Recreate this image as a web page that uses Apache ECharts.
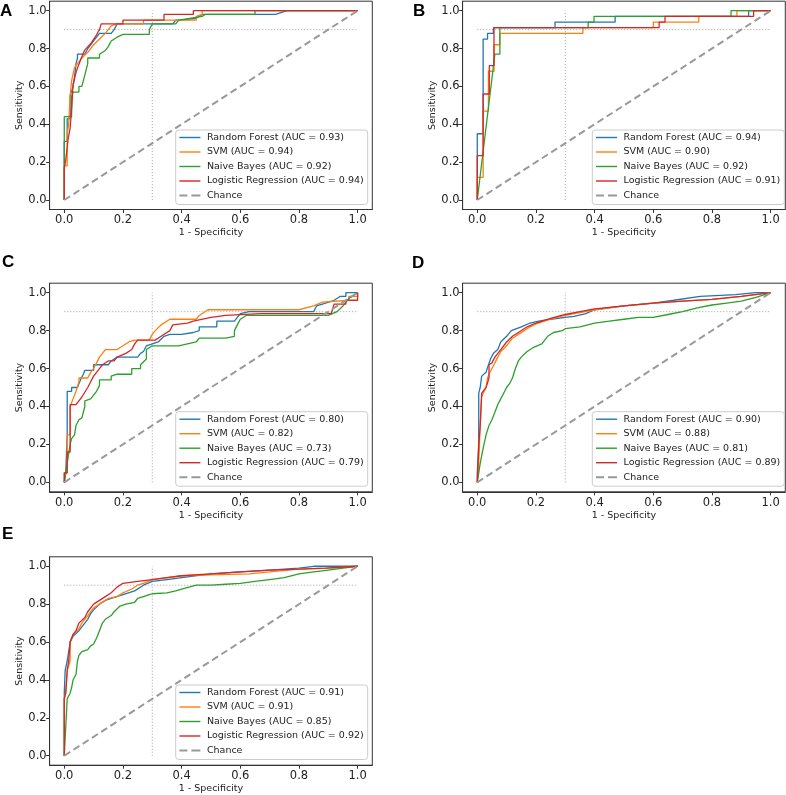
<!DOCTYPE html>
<html>
<head>
<meta charset="utf-8">
<script src="https://cdn.jsdelivr.net/npm/echarts@6/dist/echarts.min.js"></script>
<style>
html,body{margin:0;padding:0;background:#fff;}
#chart{width:786px;height:795px;}
</style>
</head>
<body>
<div id="chart"></div>
<script>
// ---------- DATA ----------
const panelLetters = ['A', 'B', 'C', 'D', 'E'];
const modelNames = ['Random Forest', 'SVM', 'Naive Bayes', 'Logistic Regression'];
const modelColors = ['#1f77b4', '#ff7f0e', '#2ca02c', '#d62728'];
const aucA = ['0.93', '0.94', '0.92', '0.94'];
const aucB = ['0.94', '0.90', '0.92', '0.91'];
const aucC = ['0.80', '0.82', '0.73', '0.79'];
const aucD = ['0.90', '0.88', '0.81', '0.89'];
const aucE = ['0.91', '0.91', '0.85', '0.92'];
const tickValues = [0, 0.2, 0.4, 0.6, 0.8, 1.0];
const chanceLine = [[0, 0], [1, 1]];
const sensRefLine = [[0, 0.9], [1, 0.9]];
const specRefLine = [[0.3, 0], [0.3, 1]];

// Panel A
const A_rf = [[0,0],[0,0.31],[0.01,0.31],[0.01,0.43],[0.02,0.43],[0.02,0.55],[0.03,0.6],[0.035,0.65],[0.04,0.72],[0.045,0.75],[0.045,0.77],[0.07,0.77],[0.08,0.8],[0.09,0.82],[0.1,0.84],[0.11,0.86],[0.12,0.88],[0.16,0.88],[0.17,0.9],[0.18,0.93],[0.37,0.93],[0.38,0.95],[0.4,0.95],[0.45,0.96],[0.47,0.98],[0.72,0.98],[0.76,1],[1,1]];
const A_svm = [[0,0],[0,0.18],[0.01,0.18],[0.01,0.35],[0.015,0.4],[0.02,0.55],[0.025,0.63],[0.035,0.7],[0.045,0.72],[0.06,0.75],[0.08,0.78],[0.1,0.82],[0.12,0.85],[0.14,0.88],[0.15,0.9],[0.16,0.92],[0.18,0.93],[0.27,0.93],[0.27,0.95],[0.45,0.95],[0.45,0.97],[0.47,0.98],[0.47,1],[1,1]];
const A_nb = [[0,0],[0,0.44],[0.025,0.44],[0.025,0.55],[0.03,0.57],[0.05,0.57],[0.05,0.6],[0.06,0.6],[0.07,0.66],[0.08,0.72],[0.08,0.75],[0.12,0.75],[0.12,0.77],[0.14,0.79],[0.15,0.81],[0.16,0.84],[0.18,0.86],[0.2,0.875],[0.29,0.875],[0.29,0.9],[0.3,0.93],[0.38,0.93],[0.39,0.95],[0.47,0.97],[0.48,0.98],[0.65,0.98],[0.65,1],[1,1]];
const A_lr = [[0,0],[0,0.17],[0.005,0.21],[0.013,0.32],[0.02,0.38],[0.026,0.5],[0.03,0.61],[0.041,0.68],[0.058,0.75],[0.069,0.79],[0.092,0.83],[0.109,0.87],[0.12,0.9],[0.126,0.93],[0.2,0.93],[0.2,0.95],[0.34,0.95],[0.34,0.98],[0.44,0.98],[0.44,1],[1,1]];

// Panel B
const B_rf = [[0,0],[0,0.35],[0.02,0.35],[0.02,0.85],[0.035,0.85],[0.035,0.88],[0.055,0.88],[0.055,0.91],[0.265,0.91],[0.265,0.94],[0.47,0.94],[0.47,0.97],[0.925,0.97],[0.925,1],[1,1]];
const B_svm = [[0,0],[0,0.12],[0.02,0.12],[0.02,0.47],[0.038,0.47],[0.038,0.68],[0.057,0.68],[0.057,0.82],[0.077,0.82],[0.077,0.88],[0.36,0.88],[0.36,0.91],[0.6,0.91],[0.6,0.94],[0.755,0.94],[0.755,0.97],[0.885,0.97],[0.885,1],[1,1]];
const B_nb = [[0,0],[0.06,0.77],[0.077,0.77],[0.077,0.91],[0.378,0.91],[0.378,0.94],[0.398,0.94],[0.398,0.97],[0.865,0.97],[0.865,1],[1,1]];
const B_lr = [[0,0],[0,0.235],[0.02,0.235],[0.02,0.56],[0.041,0.56],[0.041,0.71],[0.057,0.71],[0.057,0.91],[0.62,0.91],[0.62,0.94],[0.64,0.94],[0.64,0.97],[0.942,0.97],[0.942,1],[1,1]];

// Panel C
const C_rf = [[0,0],[0.005,0.05],[0.01,0.25],[0.01,0.48],[0.025,0.48],[0.025,0.5],[0.045,0.5],[0.05,0.52],[0.055,0.54],[0.065,0.57],[0.07,0.59],[0.1,0.59],[0.1,0.62],[0.15,0.62],[0.16,0.64],[0.18,0.66],[0.25,0.66],[0.26,0.68],[0.27,0.69],[0.28,0.72],[0.3,0.73],[0.32,0.74],[0.34,0.77],[0.36,0.78],[0.4,0.78],[0.44,0.79],[0.46,0.8],[0.46,0.82],[0.52,0.82],[0.52,0.85],[0.58,0.85],[0.6,0.89],[0.63,0.9],[0.85,0.9],[0.86,0.93],[0.88,0.94],[0.92,0.96],[0.94,0.98],[0.96,0.98],[0.96,1],[1,1]];
const C_svm = [[0,0],[0,0.05],[0.01,0.05],[0.01,0.25],[0.02,0.25],[0.02,0.4],[0.03,0.44],[0.04,0.48],[0.05,0.53],[0.05,0.55],[0.08,0.55],[0.09,0.58],[0.1,0.6],[0.11,0.63],[0.12,0.66],[0.14,0.7],[0.18,0.7],[0.2,0.72],[0.22,0.74],[0.24,0.75],[0.29,0.75],[0.3,0.78],[0.31,0.8],[0.33,0.83],[0.36,0.86],[0.45,0.86],[0.46,0.88],[0.49,0.91],[0.8,0.91],[0.8,0.92],[0.85,0.93],[0.88,0.95],[0.97,0.96],[0.97,0.98],[1,0.98],[1,1]];
const C_nb = [[0,0],[0.01,0.1],[0.02,0.2],[0.025,0.23],[0.035,0.25],[0.04,0.3],[0.05,0.33],[0.06,0.34],[0.07,0.4],[0.07,0.43],[0.09,0.44],[0.1,0.46],[0.11,0.48],[0.12,0.51],[0.12,0.54],[0.16,0.54],[0.16,0.56],[0.18,0.57],[0.23,0.57],[0.23,0.6],[0.26,0.6],[0.26,0.62],[0.28,0.65],[0.28,0.7],[0.3,0.72],[0.39,0.72],[0.39,0.73],[0.45,0.74],[0.46,0.76],[0.55,0.76],[0.55,0.77],[0.58,0.77],[0.58,0.8],[0.59,0.83],[0.6,0.86],[0.62,0.88],[0.9,0.88],[0.93,0.9],[0.95,0.93],[0.97,0.97],[1,1]];
const C_lr = [[0,0],[0,0.05],[0.01,0.05],[0.01,0.16],[0.02,0.16],[0.02,0.41],[0.04,0.41],[0.05,0.43],[0.06,0.45],[0.08,0.5],[0.09,0.53],[0.1,0.56],[0.12,0.6],[0.13,0.62],[0.15,0.64],[0.17,0.64],[0.18,0.66],[0.21,0.68],[0.23,0.7],[0.24,0.73],[0.25,0.75],[0.31,0.75],[0.33,0.77],[0.36,0.8],[0.37,0.83],[0.42,0.84],[0.44,0.85],[0.5,0.87],[0.55,0.88],[0.67,0.89],[0.91,0.89],[0.92,0.94],[0.96,0.94],[0.96,0.96],[1,0.96],[1,1]];

// Panel D
const D_rf = [[0,0],[0,0.05],[0.005,0.2],[0.005,0.47],[0.01,0.5],[0.015,0.56],[0.03,0.58],[0.036,0.61],[0.045,0.65],[0.055,0.68],[0.07,0.7],[0.08,0.74],[0.1,0.77],[0.116,0.8],[0.15,0.82],[0.18,0.84],[0.21,0.85],[0.25,0.86],[0.3,0.87],[0.33,0.875],[0.37,0.89],[0.4,0.91],[0.5,0.93],[0.6,0.945],[0.67,0.96],[0.76,0.98],[0.88,0.99],[0.95,1],[1,1]];
const D_svm = [[0,0],[0.005,0.1],[0.01,0.3],[0.015,0.45],[0.02,0.47],[0.03,0.5],[0.035,0.55],[0.04,0.57],[0.05,0.6],[0.06,0.63],[0.07,0.66],[0.08,0.69],[0.1,0.72],[0.12,0.76],[0.14,0.78],[0.16,0.8],[0.18,0.82],[0.2,0.835],[0.25,0.86],[0.3,0.88],[0.35,0.895],[0.4,0.91],[0.5,0.93],[0.6,0.945],[0.7,0.955],[0.8,0.965],[0.9,0.98],[1,1]];
const D_nb = [[0,0],[0.01,0.1],[0.02,0.18],[0.03,0.25],[0.04,0.3],[0.05,0.33],[0.06,0.37],[0.07,0.41],[0.08,0.44],[0.09,0.47],[0.1,0.5],[0.11,0.52],[0.12,0.55],[0.13,0.6],[0.14,0.64],[0.15,0.66],[0.17,0.69],[0.19,0.71],[0.22,0.73],[0.24,0.77],[0.26,0.79],[0.29,0.8],[0.3,0.81],[0.35,0.82],[0.4,0.84],[0.45,0.85],[0.5,0.86],[0.55,0.87],[0.6,0.87],[0.65,0.885],[0.7,0.9],[0.75,0.92],[0.8,0.935],[0.85,0.945],[0.9,0.955],[0.95,0.975],[1,1]];
const D_lr = [[0,0],[0.005,0.2],[0.01,0.3],[0.015,0.47],[0.03,0.5],[0.04,0.55],[0.04,0.62],[0.05,0.63],[0.06,0.66],[0.08,0.7],[0.1,0.74],[0.12,0.77],[0.14,0.79],[0.17,0.82],[0.2,0.84],[0.25,0.865],[0.3,0.885],[0.35,0.9],[0.4,0.915],[0.5,0.93],[0.6,0.945],[0.7,0.955],[0.8,0.965],[0.9,0.98],[1,1]];

// Panel E
const E_rf = [[0,0],[0,0.33],[0.003,0.45],[0.01,0.5],[0.015,0.55],[0.02,0.6],[0.03,0.63],[0.05,0.66],[0.07,0.7],[0.08,0.72],[0.09,0.75],[0.1,0.77],[0.12,0.8],[0.14,0.82],[0.16,0.83],[0.2,0.85],[0.24,0.87],[0.27,0.9],[0.3,0.92],[0.35,0.93],[0.4,0.94],[0.5,0.96],[0.6,0.97],[0.7,0.98],[0.8,0.99],[0.85,1],[1,1]];
const E_svm = [[0,0],[0,0.3],[0.005,0.33],[0.01,0.45],[0.02,0.5],[0.02,0.6],[0.03,0.64],[0.05,0.67],[0.06,0.7],[0.08,0.74],[0.1,0.78],[0.12,0.8],[0.15,0.83],[0.18,0.84],[0.2,0.86],[0.23,0.88],[0.25,0.9],[0.27,0.91],[0.3,0.93],[0.4,0.95],[0.5,0.955],[0.63,0.96],[0.63,0.97],[0.7,0.97],[0.7,0.98],[0.8,0.985],[0.9,0.99],[1,1]];
const E_nb = [[0,0],[0.005,0.15],[0.01,0.3],[0.02,0.33],[0.025,0.36],[0.03,0.4],[0.04,0.43],[0.045,0.5],[0.05,0.53],[0.06,0.55],[0.08,0.56],[0.09,0.58],[0.1,0.59],[0.11,0.62],[0.12,0.66],[0.13,0.7],[0.14,0.72],[0.16,0.74],[0.17,0.76],[0.19,0.79],[0.21,0.8],[0.24,0.81],[0.25,0.83],[0.27,0.84],[0.29,0.85],[0.3,0.855],[0.35,0.86],[0.38,0.87],[0.4,0.88],[0.45,0.9],[0.5,0.9],[0.55,0.905],[0.6,0.91],[0.65,0.92],[0.7,0.93],[0.75,0.94],[0.8,0.96],[0.85,0.97],[0.9,0.98],[0.95,0.99],[1,1]];
const E_lr = [[0,0],[0,0.3],[0.005,0.33],[0.01,0.45],[0.015,0.5],[0.02,0.6],[0.03,0.64],[0.04,0.66],[0.05,0.7],[0.07,0.73],[0.08,0.76],[0.1,0.8],[0.12,0.82],[0.14,0.84],[0.16,0.86],[0.18,0.89],[0.2,0.91],[0.25,0.92],[0.3,0.93],[0.35,0.94],[0.4,0.95],[0.5,0.96],[0.6,0.97],[0.7,0.98],[0.8,0.985],[0.89,0.99],[0.89,1],[1,1]];

// ---------- LAYOUT ----------
const panelCurves = [
  [A_rf, A_svm, A_nb, A_lr],
  [B_rf, B_svm, B_nb, B_lr],
  [C_rf, C_svm, C_nb, C_lr],
  [D_rf, D_svm, D_nb, D_lr],
  [E_rf, E_svm, E_nb, E_lr]
];
const panelAucs = [aucA, aucB, aucC, aucD, aucE];

const gridBoxes = [
  {left: 49.6, top: 1.2, width: 322.7, height: 208.3},
  {left: 462.6, top: 1.2, width: 322.7, height: 208.3},
  {left: 49.6, top: 283.2, width: 322.7, height: 208.6},
  {left: 462.6, top: 283.2, width: 322.7, height: 208.6},
  {left: 49.6, top: 556.8, width: 322.7, height: 208.4}
];
const legendPos = [
  {right: 418.3, top: 130},
  {right: 1.7, top: 130},
  {right: 418.3, top: 411.7},
  {right: 1.7, top: 411.7},
  {right: 418.3, top: 685}
];
const letterPos = [
  {left: 0, top: 3},
  {left: 413, top: 3},
  {left: 2, top: 254},
  {left: 412, top: 255},
  {left: 2, top: 526}
];

const FONT = 'DejaVu Sans';
const lineIcon = 'path://M0,0h21v1.4h-21z';
const dashIcon = 'path://M0,0h8v2h-8zM12,0h9v2h-9z';

const grids = [], xAxes = [], yAxes = [], series = [], legends = [], titles = [];

panelLetters.forEach((letter, i) => {
  const g = gridBoxes[i];
  grids.push({
    left: g.left, top: g.top, width: g.width, height: g.height,
    show: true, borderColor: '#333', borderWidth: 1, backgroundColor: 'transparent',
    containLabel: false
  });
  const axisCommon = {
    gridIndex: i, type: 'value', min: -0.05, max: 1.05,
    nameLocation: 'middle',
    nameTextStyle: {fontSize: 9.5, color: '#222', fontFamily: FONT},
    axisLine: {show: true, onZero: false, lineStyle: {color: '#333', width: 1}},
    splitLine: {show: false},
    axisTick: {show: true, inside: false, length: 3.5, lineStyle: {color: '#333', width: 1}, customValues: tickValues}
  };
  xAxes.push(Object.assign({}, axisCommon, {
    name: '1 - Specificity', nameGap: 18.5, position: 'bottom',
    axisLabel: {customValues: tickValues, formatter: v => v.toFixed(1), fontSize: 11.5, color: '#222', fontFamily: FONT, margin: 5}
  }));
  yAxes.push(Object.assign({}, axisCommon, {
    name: 'Sensitivity', nameGap: 19.5, position: 'left',
    axisLabel: {customValues: tickValues, formatter: v => v.toFixed(1), fontSize: 11.5, color: '#222', fontFamily: FONT, margin: 3}
  }));

  // reference lines
  series.push({
    type: 'line', name: 'ref-h', xAxisIndex: i, yAxisIndex: i, data: sensRefLine,
    symbol: 'none', silent: true, animation: false,
    lineStyle: {color: '#999', width: 0.9, type: [1, 2]}
  });
  series.push({
    type: 'line', name: 'ref-v', xAxisIndex: i, yAxisIndex: i, data: specRefLine,
    symbol: 'none', silent: true, animation: false,
    lineStyle: {color: '#999', width: 0.9, type: [1, 2]}
  });

  const names = [];
  modelNames.forEach((m, j) => {
    const nm = m + ' (AUC = ' + panelAucs[i][j] + ')';
    names.push({name: nm, icon: lineIcon});
    series.push({
      type: 'line', name: nm, xAxisIndex: i, yAxisIndex: i,
      data: panelCurves[i][j], symbol: 'none', animation: false,
      lineStyle: {color: modelColors[j], width: 1.3},
      itemStyle: {color: modelColors[j]}
    });
  });
  names.push({name: 'Chance', icon: dashIcon});
  series.push({
    type: 'line', name: 'Chance', xAxisIndex: i, yAxisIndex: i,
    data: chanceLine, symbol: 'none', animation: false,
    lineStyle: {color: '#999', width: 2, type: [7, 4]},
    itemStyle: {color: '#999'}
  });

  legends.push({
    orient: 'vertical', right: legendPos[i].right, top: legendPos[i].top,
    data: names, selectedMode: false,
    itemWidth: 21, itemHeight: 10, itemGap: 4.5,
    padding: [2.5, 4, 4, 3.7],
    backgroundColor: 'rgba(255,255,255,0.85)', borderColor: '#ccc', borderWidth: 1, borderRadius: 3,
    itemStyle: {borderWidth: 0},
    textStyle: {fontSize: 9.5, fontFamily: FONT, color: '#222', lineHeight: 10, padding: [0, 0, 0, 1.5]}
  });

  titles.push({
    text: letter, left: letterPos[i].left, top: letterPos[i].top, padding: 0,
    textStyle: {fontSize: 17, fontWeight: 'bold', fontFamily: 'Liberation Sans', color: '#000'}
  });
});

const chart = echarts.init(document.getElementById('chart'), null, {renderer: 'canvas'});
chart.setOption({
  backgroundColor: '#fff',
  animation: false,
  title: titles,
  grid: grids,
  xAxis: xAxes,
  yAxis: yAxes,
  legend: legends,
  series: series
});
</script>
</body>
</html>
